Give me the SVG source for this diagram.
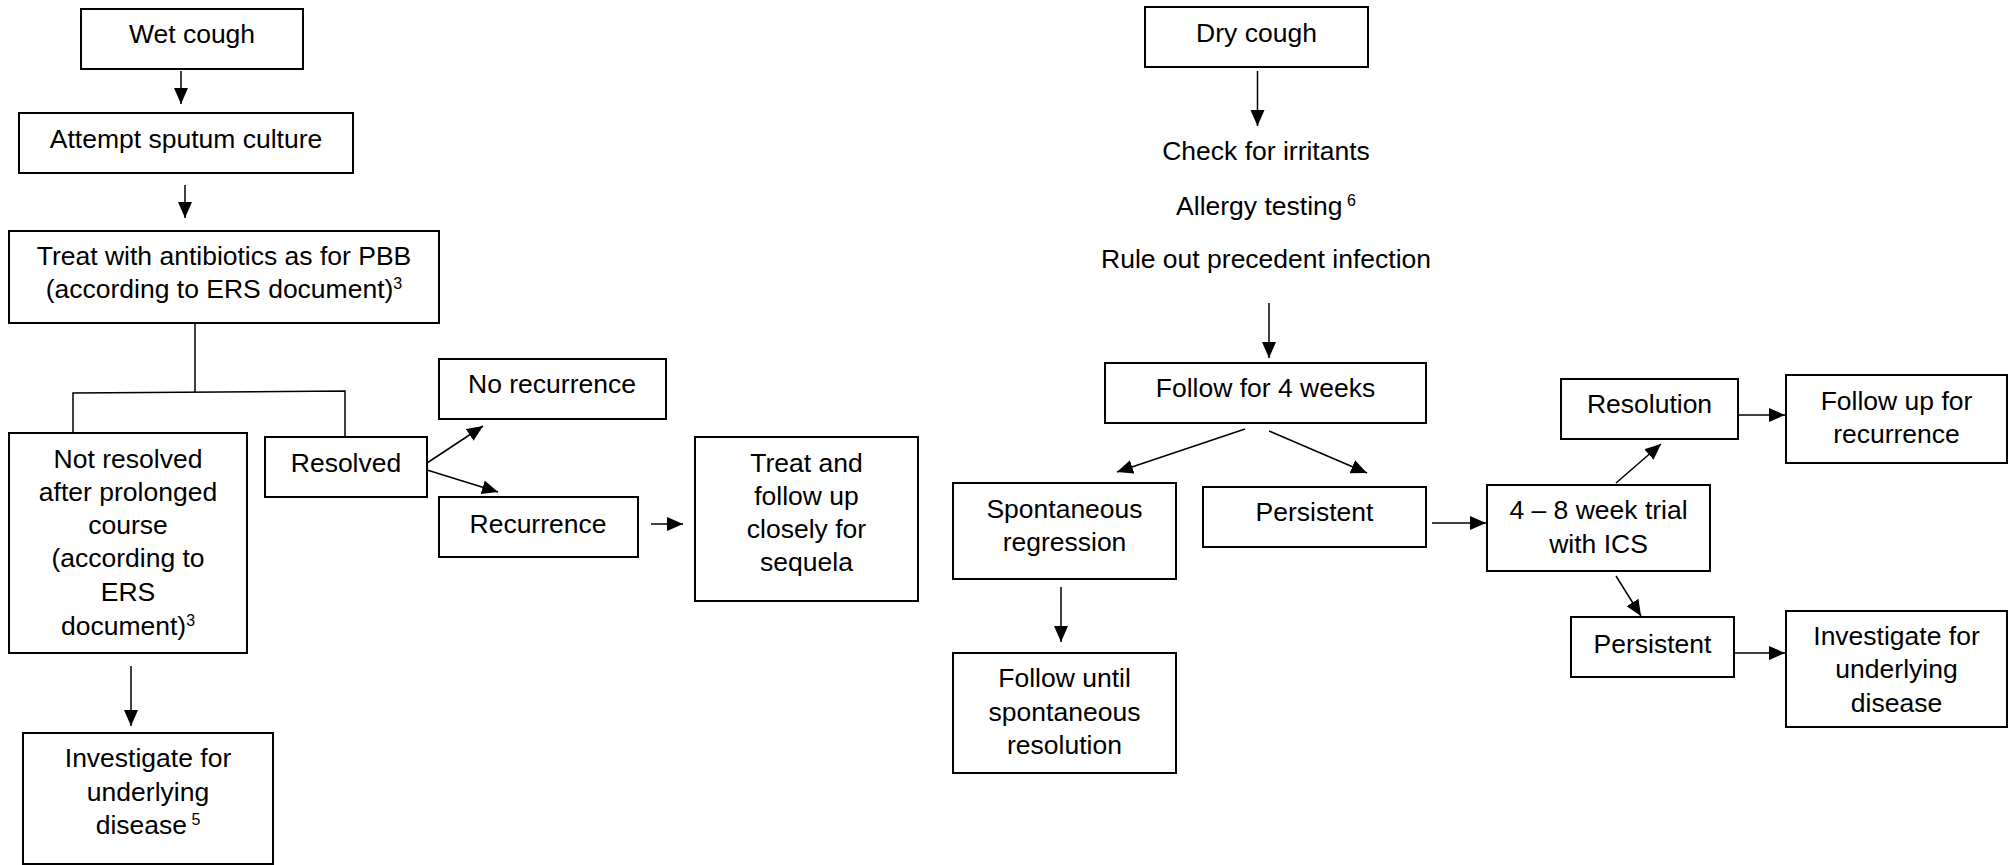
<svg xmlns="http://www.w3.org/2000/svg" width="2009" height="865" viewBox="0 0 2009 865">
<defs>
<style>
.box{fill:#fff;stroke:#000;stroke-width:2}
.t{font-family:"Liberation Sans",Arial,sans-serif;font-size:26.5px;fill:#000;text-anchor:middle}
.sup{font-size:16px}
.ln{stroke:#000;stroke-width:1.5;fill:none}
.ar{stroke:#000;stroke-width:1.5;fill:none;marker-end:url(#ah)}
</style>
<marker id="ah" markerUnits="userSpaceOnUse" markerWidth="17" markerHeight="15" refX="16" refY="7" orient="auto">
<path d="M0,0 L16,7 L0,14 z" fill="#000"/>
</marker>
</defs>
<rect width="2009" height="865" fill="#fff"/>
<g id="connectors">
<line class="ar" x1="181" y1="71" x2="181" y2="104"/>
<line class="ar" x1="185" y1="185" x2="185" y2="218"/>
<polyline class="ln" points="195,323 195,392"/>
<polyline class="ln" points="73,433 73,393 345,391 345,436"/>
<line class="ar" x1="131" y1="666" x2="131" y2="726"/>
<line class="ar" x1="427" y1="463" x2="483" y2="426"/>
<line class="ar" x1="427" y1="470" x2="498" y2="492"/>
<line class="ar" x1="651" y1="524" x2="683" y2="524"/>
<line class="ar" x1="1257.5" y1="71" x2="1257.5" y2="126"/>
<line class="ar" x1="1269" y1="303" x2="1269" y2="358"/>
<line class="ar" x1="1245" y1="429" x2="1117" y2="472"/>
<line class="ar" x1="1269" y1="431" x2="1367" y2="473"/>
<line class="ar" x1="1432" y1="523" x2="1486" y2="523"/>
<line class="ar" x1="1061" y1="587" x2="1061" y2="642"/>
<line class="ar" x1="1616" y1="483" x2="1661" y2="444"/>
<line class="ar" x1="1616" y1="576" x2="1641" y2="616"/>
<line class="ar" x1="1738" y1="415" x2="1785" y2="415"/>
<line class="ar" x1="1734" y1="653" x2="1785" y2="653"/>
</g>
<g id="wet-cough"><rect class="box" x="81" y="9" width="222" height="60"/><text class="t" x="192" y="43">Wet cough</text></g>
<g id="sputum"><rect class="box" x="19" y="113" width="334" height="60"/><text class="t" x="186" y="148">Attempt sputum culture</text></g>
<g id="antibiotics"><rect class="box" x="9" y="231" width="430" height="92"/><text class="t" x="224" y="265">Treat with antibiotics as for PBB</text><text class="t" x="224" y="298">(according to ERS document)<tspan class="sup" dy="-9">3</tspan></text></g>
<g id="not-resolved"><rect class="box" x="9" y="433" width="238" height="220"/>
<text class="t" x="128" y="468">Not resolved</text>
<text class="t" x="128" y="501">after prolonged</text>
<text class="t" x="128" y="534">course</text>
<text class="t" x="128" y="567">(according to</text>
<text class="t" x="128" y="601">ERS</text>
<text class="t" x="128" y="635">document)<tspan class="sup" dy="-9">3</tspan></text></g>
<g id="resolved"><rect class="box" x="265" y="437" width="162" height="60"/><text class="t" x="346" y="472">Resolved</text></g>
<g id="investigate-left"><rect class="box" x="23" y="733" width="250" height="131"/>
<text class="t" x="148" y="767">Investigate for</text>
<text class="t" x="148" y="801">underlying</text>
<text class="t" x="148" y="834">disease<tspan class="sup" dy="-9"> 5</tspan></text></g>
<g id="no-recurrence"><rect class="box" x="439" y="359" width="227" height="60"/><text class="t" x="552" y="393">No recurrence</text></g>
<g id="recurrence"><rect class="box" x="439" y="497" width="199" height="60"/><text class="t" x="538" y="533">Recurrence</text></g>
<g id="treat-follow"><rect class="box" x="695" y="437" width="223" height="164"/>
<text class="t" x="806.5" y="472">Treat and</text>
<text class="t" x="806.5" y="505">follow up</text>
<text class="t" x="806.5" y="538">closely for</text>
<text class="t" x="806.5" y="571">sequela</text></g>
<g id="dry-cough"><rect class="box" x="1145" y="7" width="223" height="60"/><text class="t" x="1256.5" y="42">Dry cough</text></g>
<g id="checks">
<text class="t" x="1266" y="160">Check for irritants</text>
<text class="t" x="1266" y="215">Allergy testing<tspan class="sup" dy="-9"> 6</tspan></text>
<text class="t" x="1266" y="268">Rule out precedent infection</text></g>
<g id="follow-4"><rect class="box" x="1105" y="363" width="321" height="60"/><text class="t" x="1265.5" y="397">Follow for 4 weeks</text></g>
<g id="spontaneous"><rect class="box" x="953" y="483" width="223" height="96"/>
<text class="t" x="1064.5" y="518">Spontaneous</text>
<text class="t" x="1064.5" y="551">regression</text></g>
<g id="persistent-1"><rect class="box" x="1203" y="487" width="223" height="60"/><text class="t" x="1314.5" y="521">Persistent</text></g>
<g id="follow-until"><rect class="box" x="953" y="653" width="223" height="120"/>
<text class="t" x="1064.5" y="687">Follow until</text>
<text class="t" x="1064.5" y="721">spontaneous</text>
<text class="t" x="1064.5" y="754">resolution</text></g>
<g id="ics-trial"><rect class="box" x="1487" y="485" width="223" height="86"/>
<text class="t" x="1598.5" y="519">4 – 8 week trial</text>
<text class="t" x="1598.5" y="553">with ICS</text></g>
<g id="resolution"><rect class="box" x="1561" y="379" width="177" height="60"/><text class="t" x="1649.5" y="413">Resolution</text></g>
<g id="follow-recurrence"><rect class="box" x="1786" y="375" width="221" height="88"/>
<text class="t" x="1896.5" y="410">Follow up for</text>
<text class="t" x="1896.5" y="443">recurrence</text></g>
<g id="persistent-2"><rect class="box" x="1571" y="617" width="163" height="60"/><text class="t" x="1652.5" y="653">Persistent</text></g>
<g id="investigate-right"><rect class="box" x="1786" y="611" width="221" height="116"/>
<text class="t" x="1896.5" y="645">Investigate for</text>
<text class="t" x="1896.5" y="678">underlying</text>
<text class="t" x="1896.5" y="712">disease</text></g>
</svg>
